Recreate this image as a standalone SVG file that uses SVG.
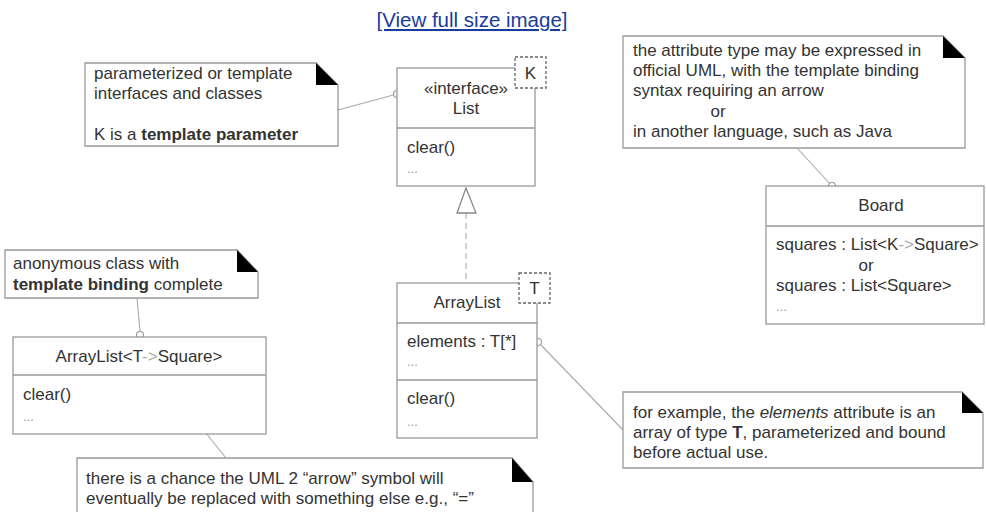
<svg xmlns="http://www.w3.org/2000/svg" width="986" height="512" viewBox="0 0 986 512">
<style>
text{font-family:"Liberation Sans",Arial,sans-serif;font-size:17px;fill:#333}
.b{font-weight:bold}
.c{text-anchor:middle}
.dots{fill:#999;font-size:13px}
.box{fill:#fff;stroke:#999;stroke-width:1.3}
.sep{stroke:#999;stroke-width:1.3}
.ear{fill:#000}
.tp{fill:#fff;stroke:#666;stroke-width:1.3;stroke-dasharray:3 2}
.ln{stroke:#aaa;stroke-width:1.1;fill:none}
.pin{fill:#fff;stroke:#999;stroke-width:1.1}
.link{fill:#1a3c9c;font-size:20.5px;text-decoration:underline}
</style>
<text class="link c" x="472" y="27">[View full size image]</text>

<g id="connectors">
<line class="ln" x1="338" y1="110" x2="397" y2="94"/>
<circle class="pin" cx="397" cy="94" r="3.5"/>
<line class="ln" x1="797" y1="148" x2="832" y2="186"/>
<circle class="pin" cx="832" cy="186" r="3.5"/>
<line class="ln" x1="466" y1="213" x2="466" y2="283" stroke="#777" stroke-dasharray="6 4" stroke-width="1.6"/>
<polygon points="466,188 457,213 476,213" fill="#fff" stroke="#888" stroke-width="1.3"/>
<line class="ln" x1="137" y1="298" x2="140" y2="331"/>
<circle class="pin" cx="140" cy="335" r="3.5"/>
<line class="ln" x1="156" y1="371" x2="226" y2="458"/>
<circle class="pin" cx="154" cy="367" r="3.5"/>
<line class="ln" x1="541" y1="345" x2="623" y2="430"/>
<circle class="pin" cx="538" cy="342" r="3.5"/>
</g>

<g id="note-template">
<path class="box" d="M85,63 H316 L338,85 V146 H85 Z"/>
<path class="ear" d="M316,63 L338,85 H316 Z"/>
<text x="94" y="79">parameterized or template</text>
<text x="94" y="99">interfaces and classes</text>
<text x="94" y="140">K is a <tspan class="b">template parameter</tspan></text>
</g>

<g id="List">
<rect class="box" x="397" y="68" width="138" height="118"/>
<line class="sep" x1="397" y1="128" x2="535" y2="128"/>
<text class="c" x="466" y="94">«interface»</text>
<text class="c" x="466" y="114">List</text>
<text x="407" y="153">clear()</text>
<text class="dots" x="407" y="173">...</text>
<rect class="tp" x="515" y="57" width="31" height="31"/>
<text class="c" x="530.5" y="79">K</text>
</g>

<g id="note-attrtype">
<path class="box" d="M623,36 H943 L965,58 V148 H623 Z"/>
<path class="ear" d="M943,36 L965,58 H943 Z"/>
<text x="633" y="56">the attribute type may be expressed in</text>
<text x="633" y="76">official UML, with the template binding</text>
<text x="633" y="96">syntax requiring an arrow</text>
<text x="718" y="117" class="c">or</text>
<text x="633" y="137">in another language, such as Java</text>
</g>

<g id="Board">
<rect class="box" x="766" y="186" width="218" height="138"/>
<line class="sep" x1="766" y1="226" x2="984" y2="226"/>
<text class="c" x="881" y="211">Board</text>
<text x="776" y="250">squares : List&lt;K<tspan fill="#aaa">-&gt;</tspan>Square&gt;</text>
<text class="c" x="866" y="271">or</text>
<text x="776" y="291">squares : List&lt;Square&gt;</text>
<text class="dots" x="776" y="311">...</text>
</g>

<g id="note-binding">
<path class="box" d="M5,250 H237 L258,272 V298 H5 Z"/>
<path class="ear" d="M237,250 L258,272 H237 Z"/>
<text x="13" y="269">anonymous class with</text>
<text x="13" y="290"><tspan class="b">template binding</tspan> complete</text>
</g>

<g id="ArrayListBound">
<rect class="box" x="13" y="337" width="253" height="97"/>
<line class="sep" x1="13" y1="375" x2="266" y2="375"/>
<text class="c" x="139" y="362">ArrayList&lt;T<tspan fill="#aaa">-&gt;</tspan>Square&gt;</text>
<text x="23" y="400">clear()</text>
<text class="dots" x="23" y="421">...</text>
</g>

<g id="ArrayList">
<rect class="box" x="397" y="283" width="140" height="155"/>
<line class="sep" x1="397" y1="323" x2="537" y2="323"/>
<line class="sep" x1="397" y1="380" x2="537" y2="380"/>
<text class="c" x="467" y="308">ArrayList</text>
<text x="407" y="347">elements : T[*]</text>
<text class="dots" x="407" y="366">...</text>
<text x="407" y="404">clear()</text>
<text class="dots" x="407" y="426">...</text>
<rect class="tp" x="519" y="273" width="31" height="30"/>
<text class="c" x="534.5" y="294">T</text>
</g>

<g id="note-elements">
<path class="box" d="M623,392 H962 L983,413 V468 H623 Z"/>
<path class="ear" d="M962,392 L983,413 H962 Z"/>
<text x="633" y="418">for example, the <tspan font-style="italic">elements</tspan> attribute is an</text>
<text x="633" y="438">array of type <tspan class="b">T</tspan>, parameterized and bound</text>
<text x="633" y="458">before actual use.</text>
</g>

<g id="note-arrow">
<path class="box" d="M77,458 H512 L533,482 V520 H77 Z"/>
<path class="ear" d="M512,458 L533,482 H512 Z"/>
<text x="86" y="484">there is a chance the UML 2 “arrow” symbol will</text>
<text x="86" y="504">eventually be replaced with something else e.g., “=”</text>
</g>
</svg>
